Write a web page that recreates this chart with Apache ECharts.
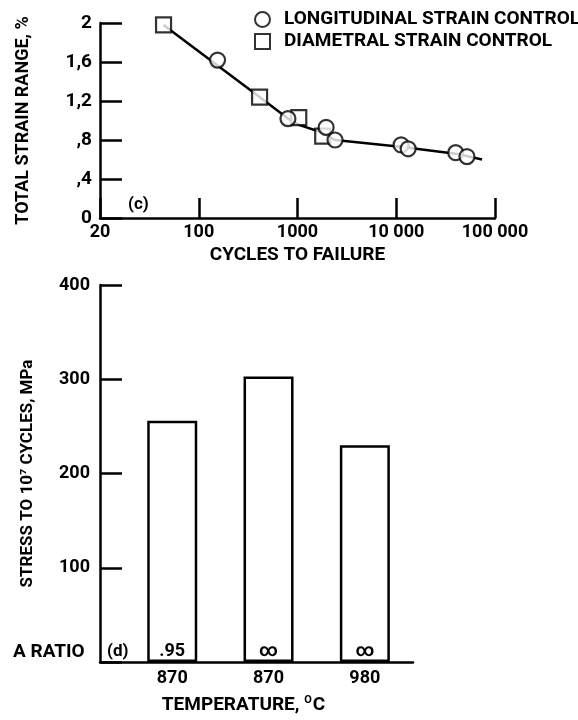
<!DOCTYPE html>
<html>
<head>
<meta charset="utf-8">
<script src="https://cdn.jsdelivr.net/npm/echarts@6/dist/echarts.min.js"></script>
<style>
  html, body { margin: 0; padding: 0; background: #fff; }
  #chart { width: 578px; height: 720px; }
</style>
</head>
<body>
<div id="chart"></div>
<script>
// (c) strain range vs cycles to failure
const longCycles = [155, 800, 1950, 2400, 11200, 13200, 40000, 52000]
const longStrain = [1.62, 1.02, 0.93, 0.80, 0.75, 0.71, 0.67, 0.63]
const diaCycles = [44, 413, 1030, 1800]
const diaStrain = [1.98, 1.24, 1.03, 0.84]
const fitCycles = [44, 413, 800, 1070, 1630, 2400, 11000, 40000, 74000]
const fitStrain = [1.98, 1.24, 1.02, 0.95, 0.89, 0.80, 0.73, 0.66, 0.60]
const strainTicks = ['0', ',4', ',8', '1,2', '1,6', '2']
const cycleTicks = ['20', '100', '1000', '10 000', '100 000']

// (d) stress to 10^7 cycles
const tempLabels = ['870', '870', '980']
const stressValues = [256, 303, 230]
const ratioLabels = ['.95', '\u221e', '\u221e']

const FONT = 'Roboto, "Liberation Sans", sans-serif'
const black = '#000'
const axisLine = { show: true, onZero: false, lineStyle: { color: black, width: 2.5 } }
const txt = (size) => ({ fontFamily: FONT, fontSize: size, color: black, fontWeight: 'bold' })

const chart = echarts.init(document.getElementById('chart'))

chart.setOption({
  animation: false,
  backgroundColor: '#fff',
  textStyle: { fontFamily: FONT, color: black },
  legend: {
    orient: 'vertical',
    left: 249,
    top: 5,
    itemWidth: 15,
    itemHeight: 15,
    itemGap: 3,
    textStyle: Object.assign(txt(19), { padding: [0, 0, 0, 9] }),
    data: ['LONGITUDINAL STRAIN CONTROL', 'DIAMETRAL STRAIN CONTROL'],
  },
  grid: [
    { left: 100, right: 83, top: 23, bottom: 502 },
    { left: 100, right: 165, top: 285, bottom: 53 },
  ],
  xAxis: [
    {
      type: 'log',
      gridIndex: 0,
      min: 10,
      max: 100000,
      axisLine,
      axisTick: { inside: true, length: 20, lineStyle: { color: black, width: 2.5 } },
      splitLine: { show: false },
      axisLabel: Object.assign(txt(18), {
        margin: 5,
        formatter: v => cycleTicks[Math.round(Math.log10(v)) - 1],
      }),
      name: 'CYCLES TO FAILURE',
      nameLocation: 'middle',
      nameGap: 28,
      nameTextStyle: txt(19),
    },
    {
      type: 'value',
      gridIndex: 1,
      min: 0,
      max: 3.25,
      axisLine,
      axisTick: { show: false },
      splitLine: { show: false },
      axisLabel: Object.assign(txt(18), {
        margin: 7,
        customValues: [0.75, 1.75, 2.75],
        formatter: v => tempLabels[Math.round(v - 0.75)],
      }),
      name: '{t|TEMPERATURE, }{s|O}{t|C}',
      nameLocation: 'middle',
      nameGap: 33,
      nameTextStyle: {
        padding: [0, 26, 0, 0],
        rich: {
          t: txt(19),
          s: Object.assign(txt(11), { padding: [0, 1, 10, 0] }),
        },
      },
    },
  ],
  yAxis: [
    {
      type: 'value',
      gridIndex: 0,
      min: 0,
      max: 2,
      interval: 0.4,
      axisLine,
      axisTick: { show: true, inside: true, length: 22, lineStyle: { color: black, width: 2.5 } },
      splitLine: { show: false },
      axisLabel: Object.assign(txt(19), {
        margin: 8,
        formatter: v => strainTicks[Math.round(v / 0.4)],
      }),
      name: 'TOTAL STRAIN RANGE, %',
      nameLocation: 'middle',
      nameGap: 68,
      nameRotate: 90,
      nameTextStyle: txt(18),
    },
    {
      type: 'value',
      gridIndex: 1,
      min: 0,
      max: 400,
      interval: 100,
      axisLine,
      axisTick: { show: true, inside: true, length: 22, lineStyle: { color: black, width: 2.5 } },
      splitLine: { show: false },
      axisLabel: Object.assign(txt(18), {
        margin: 10,
        formatter: v => (v === 0 ? '' : String(v)),
      }),
      name: 'STRESS TO 10\u2077 CYCLES, MPa',
      nameLocation: 'middle',
      nameGap: 64,
      nameRotate: 90,
      nameTextStyle: txt(17),
    },
  ],
  series: [
    {
      type: 'line',
      xAxisIndex: 0,
      yAxisIndex: 0,
      data: fitCycles.map((c, i) => [c, fitStrain[i]]),
      symbol: 'none',
      lineStyle: { color: black, width: 2.5 },
      z: 1,
      silent: true,
    },
    {
      name: 'LONGITUDINAL STRAIN CONTROL',
      type: 'scatter',
      xAxisIndex: 0,
      yAxisIndex: 0,
      data: longCycles.map((c, i) => [c, longStrain[i]]),
      symbol: 'circle',
      symbolSize: 15,
      itemStyle: { color: '#fff', borderColor: black, borderWidth: 2.2 },
      z: 3,
    },
    {
      name: 'DIAMETRAL STRAIN CONTROL',
      type: 'scatter',
      xAxisIndex: 0,
      yAxisIndex: 0,
      data: diaCycles.map((c, i) => [c, diaStrain[i]]),
      symbol: 'rect',
      symbolSize: 15,
      itemStyle: { color: '#fff', borderColor: black, borderWidth: 2.2 },
      z: 2,
    },
    {
      type: 'bar',
      xAxisIndex: 1,
      yAxisIndex: 1,
      data: stressValues.map((v, i) => [i + 0.75, v]),
      barWidth: 50,
      itemStyle: { color: '#fff', borderColor: black, borderWidth: 2.5 },
      label: Object.assign(txt(18), {
        show: true,
        position: 'insideBottom',
        distance: 2,
        formatter: p => ratioLabels[p.dataIndex],
      }),
    },
  ],
  graphic: [
    { type: 'text', left: 128, top: 196, style: Object.assign(txt(17), { text: '(c)', fill: black }) },
    { type: 'text', left: 13, top: 643, style: Object.assign(txt(19), { text: 'A RATIO', fill: black }) },
    { type: 'text', left: 107, top: 643, style: Object.assign(txt(17), { text: '(d)', fill: black }) },
  ],
})
</script>
</body>
</html>
